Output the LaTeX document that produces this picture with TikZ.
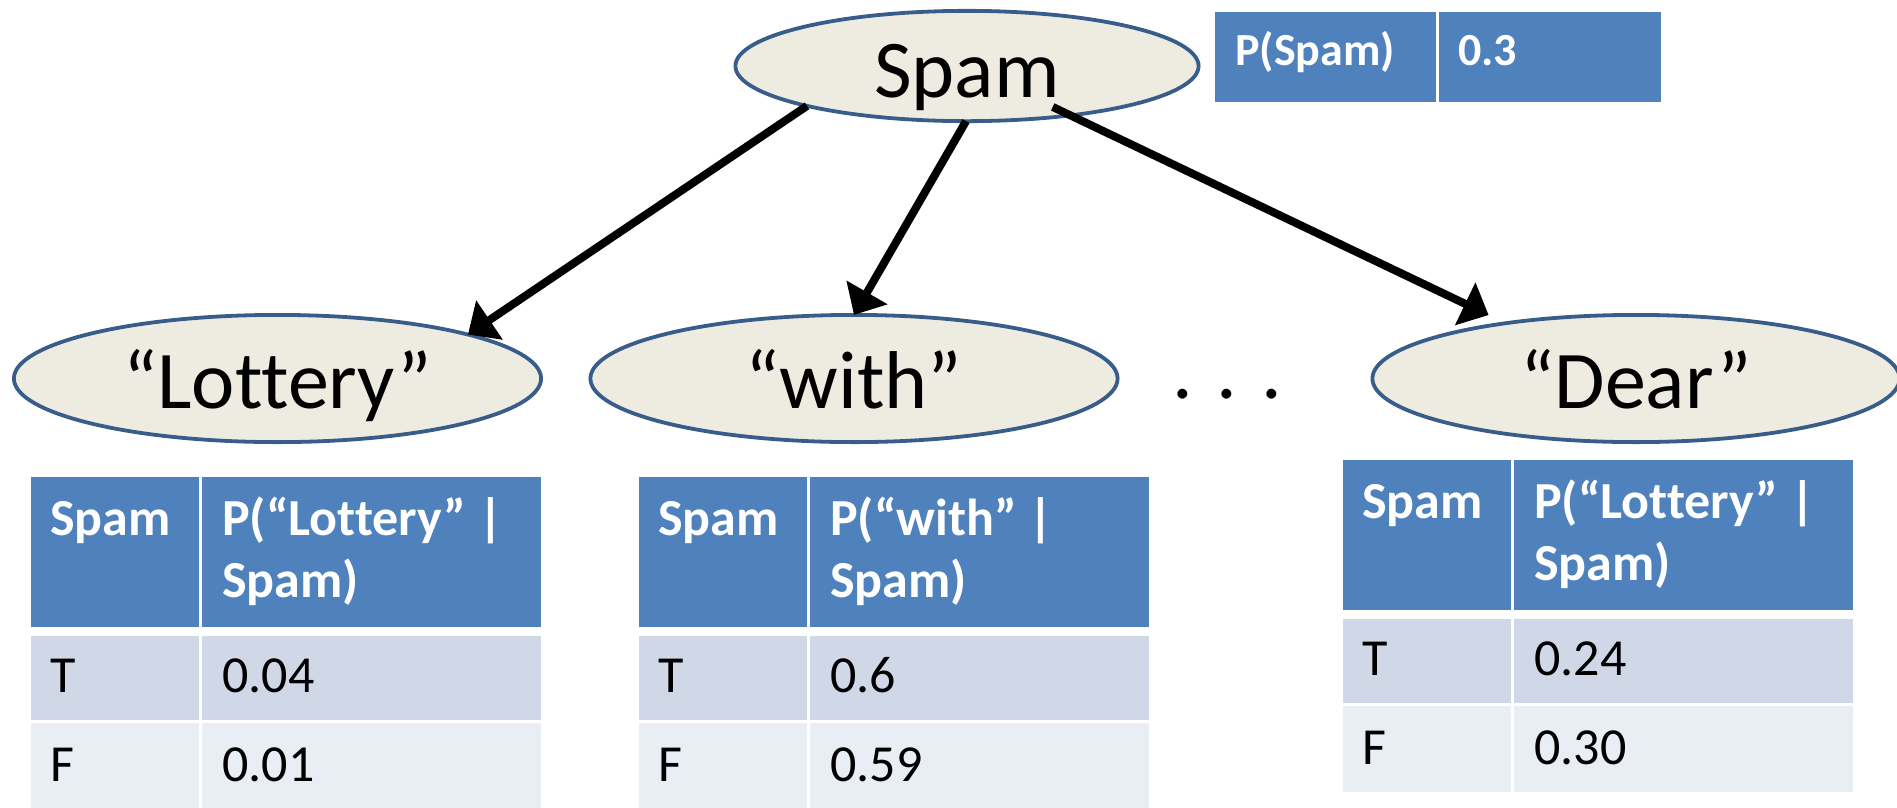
\documentclass[tikz,border=0pt]{standalone}
\usepackage{fontspec}
\setmainfont{Carlito}[Ligatures={TeX,NoCommon}]
\usetikzlibrary{shapes.geometric,arrows.meta}

\definecolor{nodefill}{HTML}{EEECE1}
\definecolor{nodeline}{HTML}{385D8A}
\definecolor{headblue}{HTML}{4F81BD}
\definecolor{rowdark}{HTML}{D0D8E8}
\definecolor{rowlight}{HTML}{E9EDF4}

\tikzset{
  var/.style={ellipse, draw=nodeline, fill=nodefill, line width=3.8pt,
    inner sep=0pt, outer sep=0pt, minimum width=527.2pt, minimum height=127.2pt,
    font=\fontsize{82}{98}\selectfont, text height=67pt, text depth=8pt},
  edge/.style={line width=8pt, -{Triangle[length=26pt,width=46pt]}},
  headtxt/.style={anchor=base west, inner sep=0pt, text=white,
    font=\fontsize{52}{62}\selectfont\bfseries},
  celltxt/.style={anchor=base west, inner sep=0pt,
    font=\fontsize{52}{62}\selectfont},
  toptxt/.style={anchor=base west, inner sep=0pt, text=white,
    font=\fontsize{46}{55}\selectfont\bfseries},
}

% conditional probability table: x, y of top-left corner, name prefix,
% first header line, value for T, value for F
\newcommand\cpttable[6]{%
  \begin{scope}[shift={(#1,#2)}]
    \fill[headblue] (0,0) rectangle (168,150);
    \fill[headblue] (171,0) rectangle (510,150);
    \fill[rowdark] (0,159) rectangle (168,243);
    \fill[rowdark] (171,159) rectangle (510,243);
    \fill[rowlight] (0,246) rectangle (168,332);
    \fill[rowlight] (171,246) rectangle (510,332);
    \node[headtxt] (#3-var) at (19,58) {Spam};
    \node[headtxt] (#3-p1) at (191,58) {#4};
    \node[headtxt] (#3-p2) at (191,120) {Spam)};
    \node[celltxt] (#3-t) at (19,215) {T};
    \node[celltxt] (#3-tv) at (191,215) {#5};
    \node[celltxt] (#3-f) at (19,304) {F};
    \node[celltxt] (#3-fv) at (191,304) {#6};
  \end{scope}}

\begin{document}
\begin{tikzpicture}[x=1pt,y=-1pt]
\useasboundingbox (0,0) rectangle (1897,807);

% prior table
\fill[headblue] (1215,12) rectangle (1436,102);
\fill[headblue] (1439,12) rectangle (1661,102);
\node[toptxt] (pspam) at (1235,65) {P(Spam)};
\node[toptxt] (pval) at (1458,65) {0.3};

% network nodes
\node[var, minimum width=463.2pt, minimum height=110.2pt,
      text height=70pt, text depth=8pt] (spam) at (967,66) {Spam};
\node[var] (lot) at (277.5,378.5) {“Lottery”};
\node[var] (with) at (854,378.5) {“with”};
\node[var] (dear) at (1636,378.5) {“Dear”};
\node[anchor=base west, inner sep=0pt, font=\fontsize{82}{98}\selectfont]
  (dots) at (1172,398) {.\hspace{24pt}.\hspace{24pt}.};

% edges
\draw[edge] (spam.194) -- (lot.13);
\draw[edge] (spam.269) -- (with.90);
\draw[edge, shorten <=95pt, shorten >=19pt] (spam.center) -- (dear.157);

% tables
\cpttable{31}{477}{tl}{P(“Lottery” |}{0.04}{0.01}
\cpttable{639}{477}{tw}{P(“with” |}{0.6}{0.59}
\cpttable{1343}{460}{td}{P(“Lottery” |}{0.24}{0.30}
\end{tikzpicture}
\end{document}
